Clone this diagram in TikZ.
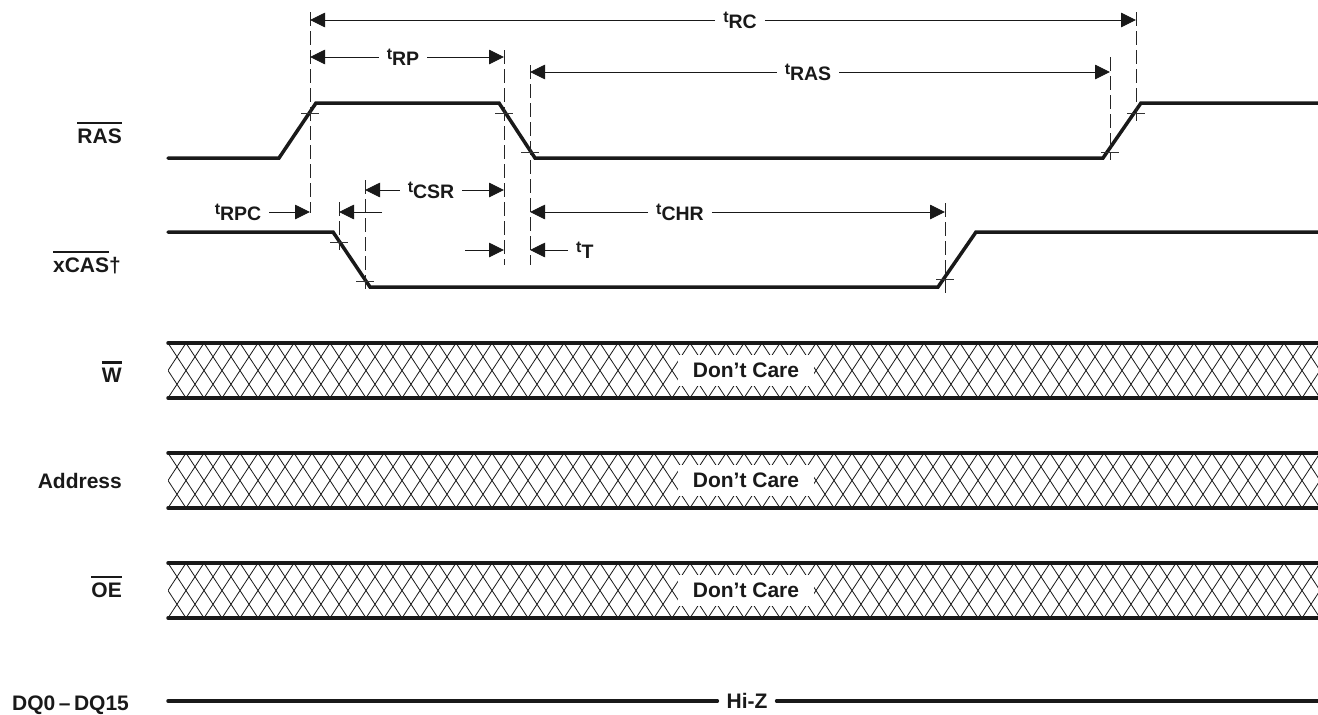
\documentclass[tikz,border=0pt]{standalone}
\usepackage{fontspec}
\setmainfont{Liberation Sans}
\usetikzlibrary{arrows.meta,positioning}
\newcommand{\tsub}[1]{{\fontsize{16}{16}\selectfont t}\raisebox{-6pt}{#1}}
\newcommand{\ovbar}[1]{\vbox{\hrule height 2.6pt\kern 4pt\hbox{#1}}}
\tikzset{
  >={Triangle[length=15pt,width=14.5pt]},
  sigline/.style={line width=3.5pt, line cap=round, draw=black!90},
  guide/.style={line width=0.8pt, draw=black!85, dash pattern=on 14pt off 5pt},
  tickmark/.style={line width=0.8pt, draw=black!80},
  dimline/.style={line width=0.9pt, draw=black!90},
  hatch/.style={line width=0.8pt, draw=black!90},
  tname/.style={font=\fontsize{19.5}{21}\selectfont\bfseries, inner xsep=8pt, inner ysep=0pt, text=black!90},
  signame/.style={font=\fontsize{21}{24}\selectfont\bfseries, inner sep=0pt, text=black!90},
  dontcare/.style={font=\fontsize{21}{24}\selectfont\bfseries, fill=white, inner sep=0pt,
    minimum width=136pt, minimum height=31pt, text=black!90},
}
\begin{document}
\begin{tikzpicture}[x=1pt,y=-1pt]
  \useasboundingbox (0,0) rectangle (1318,715);

  % signal names
  \node[signame, anchor=base east] (sRAS) at (122,143) {\ovbar{RAS}};
  \node[signame, anchor=base east] (sCAS) at (121,272) {\ovbar{xCAS}†};
  \node[signame, anchor=base east] (sW) at (122,382) {\ovbar{W}};
  \node[signame, anchor=base east] (sAddr) at (122,488) {Address};
  \node[signame, anchor=base east] (sOE) at (122,597) {\ovbar{OE}};
  \node[signame, anchor=base west] (sDQ) at (12,710) {DQ0\,–\,DQ15};

  % RAS and xCAS waveforms
  \draw[sigline] (168,158) -- (279,158) -- (316,103) -- (499,103) -- (535,158)
    -- (1103,158) -- (1141,103) -- (1318,103);
  \draw[sigline] (168,232) -- (333,232) -- (370,287) -- (938,287) -- (976,232) -- (1318,232);

  % reference lines and crossing marks
  \foreach \gx/\gt/\gb in {310/12/213, 504/50/265, 530/65/265, 1110/57/160,
      1136/12/122, 339/202/250, 365/180/290, 945/203/295}
    \draw[guide] (\gx,\gt) -- (\gx,\gb);
  \foreach \tx/\ty in {310/113, 504/113, 530/152, 1110/152, 1136/113,
      339/242, 365/281, 945/279}
    \draw[tickmark] (\tx-9,\ty) -- (\tx+9,\ty);

  % timing parameters
  \coordinate (rcL) at (310,20);
  \coordinate (rcR) at (1136,20);
  \node[tname] (lRC) at (740,20) {\tsub{RC}};
  \draw[dimline,->] (lRC) -- (rcL);
  \draw[dimline,->] (lRC) -- (rcR);

  \coordinate (rpL) at (310,57);
  \coordinate (rpR) at (504,57);
  \node[tname] (lRP) at (403,57) {\tsub{RP}};
  \draw[dimline,->] (lRP) -- (rpL);
  \draw[dimline,->] (lRP) -- (rpR);

  \coordinate (rasL) at (530,72);
  \coordinate (rasR) at (1110,72);
  \node[tname] (lRAS) at (808,72) {\tsub{RAS}};
  \draw[dimline,->] (lRAS) -- (rasL);
  \draw[dimline,->] (lRAS) -- (rasR);

  \coordinate (csrL) at (365,190);
  \coordinate (csrR) at (504,190);
  \node[tname] (lCSR) at (431,190) {\tsub{CSR}};
  \draw[dimline,->] (lCSR) -- (csrL);
  \draw[dimline,->] (lCSR) -- (csrR);

  \coordinate (rpcR) at (310,212);
  \coordinate (rpcC) at (339,212);
  \coordinate (rpcT) at (382,212);
  \node[tname] (lRPC) at (238,212) {\tsub{RPC}};
  \draw[dimline,->] (lRPC) -- (rpcR);
  \draw[dimline,->] (rpcT) -- (rpcC);

  \coordinate (chrL) at (530,212);
  \coordinate (chrR) at (945,212);
  \node[tname] (lCHR) at (680,212) {\tsub{CHR}};
  \draw[dimline,->] (lCHR) -- (chrL);
  \draw[dimline,->] (lCHR) -- (chrR);

  \coordinate (tA) at (465,250);
  \coordinate (tB) at (504,250);
  \coordinate (tD) at (530,250);
  \node[tname, anchor=west] (lT) at (568,250) {\tsub{T}};
  \draw[dimline,->] (tA) -- (tB);
  \draw[dimline,->] (lT) -- (tD);

  % don't care bands
  \foreach \yb/\nm in {343/W, 453/Addr, 563/OE} {
    \begin{scope}
      \clip (168,\yb) rectangle (1318,\yb+55);
      \foreach \xh in {114,132,...,1318} {
        \draw[hatch] (\xh,\yb) -- ++(36,55);
        \draw[hatch] (\xh,\yb+55) -- ++(36,-55);
      }
    \end{scope}
    \draw[sigline] (168,\yb) -- (1318,\yb);
    \draw[sigline] (168,\yb+55) -- (1318,\yb+55);
    \node[dontcare] (dc\nm) at (746,\yb+27.5) {Don’t Care};
  }

  % data bus
  \coordinate (dqL) at (168,701);
  \coordinate (dqR) at (1318,701);
  \node[font=\fontsize{21}{24}\selectfont\bfseries, inner xsep=9pt, inner ysep=0pt, text=black!90] (hiz) at (747,701) {Hi-Z};
  \draw[sigline] (dqL) -- (hiz) -- (dqR);
\end{tikzpicture}
\end{document}
